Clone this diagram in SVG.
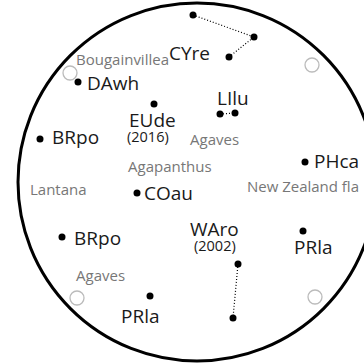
<svg xmlns="http://www.w3.org/2000/svg" width="364" height="364" viewBox="0 0 364 364">
<style>
.lbl{font-family:"Open Sans",Lato,sans-serif;font-size:19px;fill:#1a1a1a}
.yr{font-family:"Open Sans",Lato,sans-serif;font-size:14.5px;fill:#1a1a1a}
.plant{font-family:"Open Sans",Lato,sans-serif;font-size:15px;fill:#777}
.dot{fill:#000}
.ring{fill:none;stroke:#bbb;stroke-width:1.3}
.link{fill:none;stroke:#000;stroke-width:1.2;stroke-dasharray:1 2}
</style>
<rect width="364" height="364" fill="#fff"/>
<circle cx="197" cy="182" r="179" fill="none" stroke="#000" stroke-width="3"/>
<g id="markers">
<circle class="ring" cx="70" cy="73" r="7"/>
<circle class="ring" cx="312" cy="65" r="7"/>
<circle class="ring" cx="77" cy="298" r="7"/>
<circle class="ring" cx="315" cy="297" r="7"/>
</g>
<g id="connectors">
<polyline class="link" points="193,15 254,37 229,57"/>
<line class="link" x1="220" y1="114" x2="235" y2="113"/>
<line class="link" x1="238" y1="264" x2="233" y2="318"/>
</g>
<g id="plants">
<text class="plant" x="76" y="65">Bougainvillea</text>
<text class="plant" x="128" y="172">Agapanthus</text>
<text class="plant" x="190" y="145">Agaves</text>
<text class="plant" x="30" y="195">Lantana</text>
<text class="plant" x="247" y="192" textLength="112" lengthAdjust="spacing">New Zealand fla</text>
<text class="plant" x="76" y="281">Agaves</text>
</g>
<g id="CYre"><circle class="dot" cx="193" cy="15" r="3.5"/><circle class="dot" cx="254" cy="37" r="3.5"/><circle class="dot" cx="229" cy="57" r="3.5"/><text class="lbl" x="169" y="60">CYre</text></g>
<g id="DAwh"><circle class="dot" cx="78" cy="82" r="3.5"/><text class="lbl" x="87" y="90">DAwh</text></g>
<g id="EUde"><circle class="dot" cx="154" cy="104" r="3.5"/><text class="lbl" x="129" y="127">EUde</text><text class="yr" x="127" y="142">(2016)</text></g>
<g id="LIlu"><circle class="dot" cx="220" cy="114" r="3.5"/><circle class="dot" cx="235" cy="113" r="3.5"/><text class="lbl" x="217" y="105">LIlu</text></g>
<g id="BRpo1"><circle class="dot" cx="40" cy="139" r="3.5"/><text class="lbl" x="52" y="144">BRpo</text></g>
<g id="PHca"><circle class="dot" cx="305" cy="162" r="3.5"/><text class="lbl" x="314" y="168">PHca</text></g>
<g id="COau"><circle class="dot" cx="137" cy="193" r="3.5"/><text class="lbl" x="144" y="200">COau</text></g>
<g id="BRpo2"><circle class="dot" cx="62" cy="237" r="3.5"/><text class="lbl" x="74" y="245">BRpo</text></g>
<g id="WAro"><circle class="dot" cx="238" cy="264" r="3.5"/><circle class="dot" cx="233" cy="318" r="3.5"/><text class="lbl" x="190" y="236">WAro</text><text class="yr" x="194" y="251">(2002)</text></g>
<g id="PRla1"><circle class="dot" cx="303" cy="231" r="3.5"/><text class="lbl" x="294" y="254">PRla</text></g>
<g id="PRla2"><circle class="dot" cx="150" cy="296" r="3.5"/><text class="lbl" x="121" y="323">PRla</text></g>
</svg>
